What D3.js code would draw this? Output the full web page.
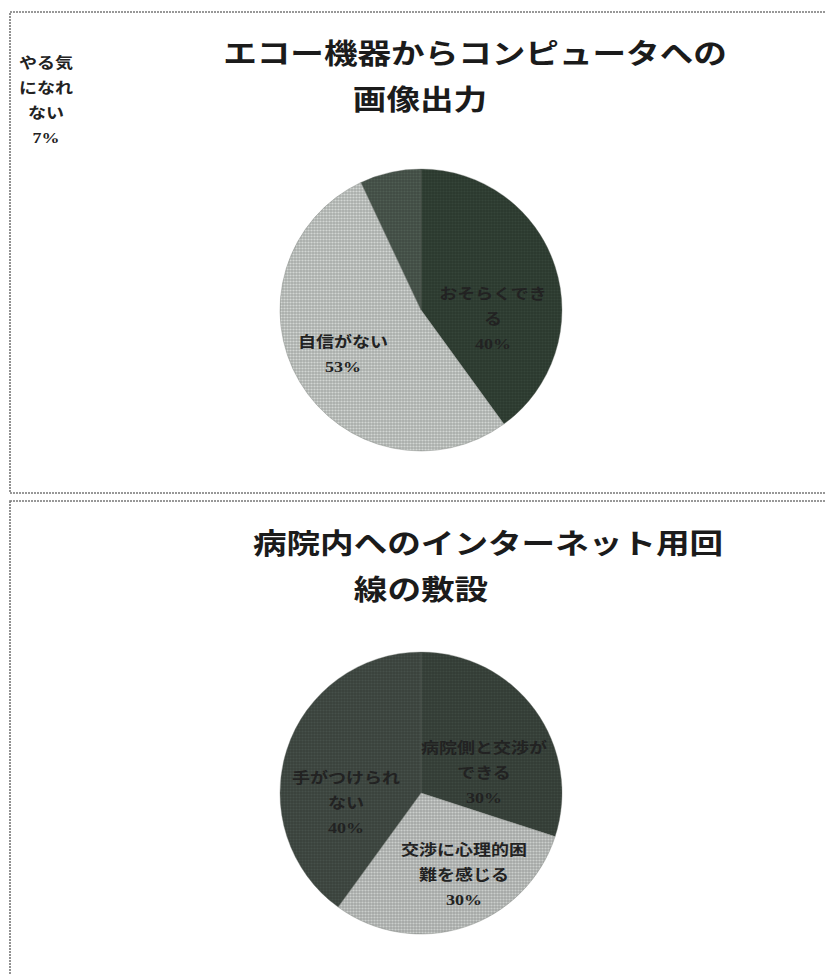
<!DOCTYPE html>
<head>
<meta charset="utf-8">
<title>Pie charts</title>
<script type="text/javascript" src="https://d3js.org/d3.v7.min.js"></script>
<style>
body { margin: 0; background: #fff; }
.panel { fill: none; stroke: #777; stroke-width: 1.6; stroke-dasharray: 2 1; }
.title { font-family: "Noto Sans CJK JP"; font-weight: 700; font-size: 28px; fill: #1b1b1b; }
.label { font-family: "Liberation Serif", "Noto Sans CJK JP"; font-weight: 700; font-size: 15px; fill: #222; }
</style>
</head>
<body>
<div id="container"></div>
<script>
//----------------------------DATA------------------------------//
const topTitle = ["エコー機器からコンピュータへの", "画像出力"];
const topCats = ["おそらくできる", "自信がない", "やる気になれない"];
const topValues = [40, 53, 7];
const topLabelLines = [["おそらくでき", "る"], ["自信がない"], ["やる気", "になれ", "ない"]];
const topColors = ["#2f3d32", "#b9bdba", "#465249"];

const bottomTitle = ["病院内へのインターネット用回", "線の敷設"];
const bottomCats = ["病院側と交渉ができる", "交渉に心理的困難を感じる", "手がつけられない"];
const bottomValues = [30, 30, 40];
const bottomLabelLines = [["病院側と交渉が", "できる"], ["交渉に心理的困", "難を感じる"], ["手がつけられ", "ない"]];
const bottomColors = ["#374039", "#b3b7b4", "#3e4741"];

//----------------------------SETUP-----------------------------//
const width = 825;
const height = 975;
const radius = 141;
const stretch = 1.2;   // glyphs in the picture are wider than tall
const lineGap = 25;

const svg = d3.select("div#container").append("svg")
    .attr("width", width)
    .attr("height", height);

const defs = svg.append("defs");

// halftone-ish fill so the slices look like the printed scan
function screen(id, color) {
    const c = d3.color(color);
    const p = defs.append("pattern")
        .attr("id", id)
        .attr("width", 3).attr("height", 3)
        .attr("patternUnits", "userSpaceOnUse");
    p.append("rect").attr("width", 3).attr("height", 3).attr("fill", c.darker(0.25));
    p.append("circle").attr("cx", 1.5).attr("cy", 1.5).attr("r", 1.1).attr("fill", c.brighter(0.35));
    return "url(#" + id + ")";
}

const pie = d3.pie().sort(null).value(d => d);
const arc = d3.arc().innerRadius(0).outerRadius(radius);

function drawPanel(cfg) {
    svg.append("rect")
        .attr("class", "panel")
        .attr("x", 10).attr("y", cfg.boxTop)
        .attr("width", width + 20)
        .attr("height", cfg.boxHeight);

    cfg.title.forEach(function(t, i) {
        svg.append("g")
            .attr("transform", "translate(" + cfg.titleX[i] + "," + cfg.titleY[i] + ") scale(" + stretch + ",1)")
            .append("text")
            .attr("class", "title")
            .attr("text-anchor", "middle")
            .attr("dominant-baseline", "central")
            .text(t);
    });

    const g = svg.append("g")
        .attr("transform", "translate(" + cfg.cx + "," + cfg.cy + ")");

    g.selectAll("path")
        .data(pie(cfg.values))
        .enter()
        .append("path")
        .attr("d", arc)
        .attr("fill", (d, i) => screen(cfg.id + i, cfg.colors[i]))
        .attr("stroke", "#6c746e")
        .attr("stroke-width", 0.6)
        .attr("stroke-opacity", 0.6);

    // labels: category lines + percentage
    cfg.values.forEach(function(v, i) {
        const lines = cfg.labelLines[i].concat([v + "%"]);
        const off = cfg.labelOffset[i];
        lines.forEach(function(l, j) {
            g.append("g")
                .attr("transform", "translate(" + off[0] + "," + (off[1] + j * lineGap) + ") scale(" + stretch + ",1)")
                .append("text")
                .attr("class", "label")
                .attr("text-anchor", "middle")
                .attr("dominant-baseline", "central")
                .text(l);
        });
    });
}

drawPanel({
    id: "t",
    boxTop: 12, boxHeight: 481,
    title: topTitle, titleX: [475, 420], titleY: [52, 98],
    cx: 421, cy: 310,
    values: topValues, colors: topColors, labelLines: topLabelLines,
    labelOffset: [[72, -16], [-78, 32], [-375, -247]]
});

drawPanel({
    id: "b",
    boxTop: 501, boxHeight: 500,
    title: bottomTitle, titleX: [488, 421], titleY: [542, 588],
    cx: 421, cy: 793,
    values: bottomValues, colors: bottomColors, labelLines: bottomLabelLines,
    labelOffset: [[63, -45], [43, 57], [-75, -15]]
});
</script>
</body>
